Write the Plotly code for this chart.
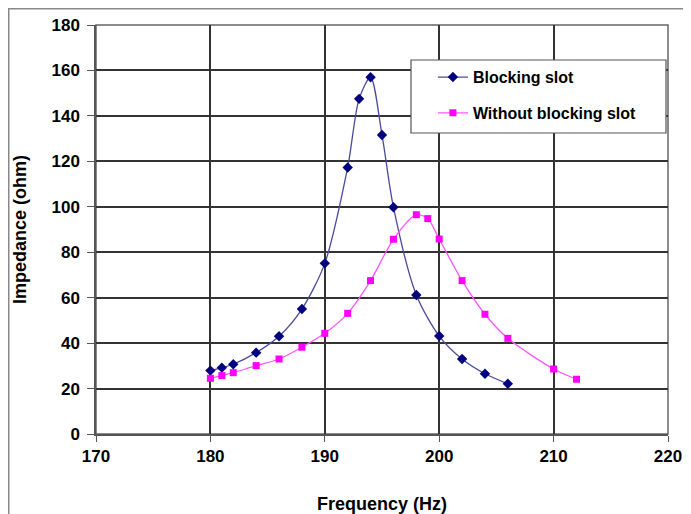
import plotly.graph_objects as go

freq_blocking = [180, 181, 182, 184, 186, 188, 190, 192, 193, 194, 195, 196, 198, 200, 202, 204, 206]
imp_blocking = [27.9, 29.2, 30.7, 35.8, 43.0, 55.0, 75.1, 117.3, 147.5, 157.0, 131.6, 99.8, 61.2, 43.1, 33.0, 26.5, 22.1]

freq_without = [180, 181, 182, 184, 186, 188, 190, 192, 194, 196, 198, 199, 200, 202, 204, 206, 210, 212]
imp_without = [24.5, 25.7, 27.0, 30.1, 33.0, 38.2, 44.3, 53.1, 67.5, 85.7, 96.5, 94.8, 85.8, 67.5, 52.7, 42.1, 28.6, 24.1]

x_ticks = [170, 180, 190, 200, 210, 220]
y_ticks = [0, 20, 40, 60, 80, 100, 120, 140, 160, 180]

FONT = "Liberation Sans"

fig = go.Figure()
fig.add_trace(go.Scatter(
    x=freq_blocking, y=imp_blocking, mode="lines+markers",
    name="<b>Blocking slot</b>", legendgroup="a",
    line=dict(color="#4a4a9c", width=1.3, shape="spline", smoothing=0.8),
    marker=dict(symbol="diamond", size=8, color="#000080"),
))
fig.add_trace(go.Scatter(
    x=freq_without, y=imp_without, mode="lines+markers",
    name="<b>Without blocking slot</b>", legendgroup="b",
    line=dict(color="#ff55ff", width=1.3, shape="spline", smoothing=0.8),
    marker=dict(symbol="square", size=7, color="#ff00ff"),
))

fig.update_layout(
    width=683, height=506,
    margin=dict(l=88, r=23, t=17, b=80),
    paper_bgcolor="white", plot_bgcolor="white",
    font=dict(family=FONT, size=17, color="black"),
    showlegend=True,
    legend=dict(
        x=0.589, y=0.914, xanchor="left", yanchor="top",
        bgcolor="rgba(0,0,0,0)", borderwidth=0,
        font=dict(family=FONT, size=16, color="black"),
        tracegroupgap=12,
    ),
    xaxis=dict(
        range=[170, 220], tickvals=x_ticks, ticktext=[f"<b>{v}</b>" for v in x_ticks],
        showgrid=True, gridcolor="#333333", gridwidth=1.5,
        showline=True, linecolor="#555555", linewidth=1.5,
        ticks="outside", ticklen=6, tickcolor="#555555",
        zeroline=False, automargin=False,
        title=dict(text="<b>Frequency (Hz)</b>", standoff=34, font=dict(size=18)),
    ),
    yaxis=dict(
        range=[0, 180], tickvals=y_ticks, ticktext=[f"<b>{v}</b>" for v in y_ticks],
        showgrid=True, gridcolor="#333333", gridwidth=1.5,
        showline=True, linecolor="#555555", linewidth=1.5,
        ticks="outside", ticklen=7, tickcolor="#555555",
        ticklabelstandoff=4,
        zeroline=False, automargin=False,
        title=dict(text="<b>Impedance (ohm)</b>", standoff=20, font=dict(size=18)),
    ),
    shapes=[
        dict(type="rect", xref="paper", yref="paper",
             x0=(0.75 - 88) / 572, x1=1.2, y0=-0.4, y1=1 + (17 - 0.75) / 409,
             line=dict(color="#888888", width=1.5), fillcolor="rgba(0,0,0,0)", layer="below"),
        dict(type="rect", xref="paper", yref="paper",
             x0=0, x1=1, y0=0, y1=1,
             line=dict(color="#666666", width=1.5), fillcolor="rgba(0,0,0,0)", layer="below"),
        dict(type="rect", xref="paper", yref="paper",
             x0=0.5507, x1=0.9965, y0=0.7359, y1=0.9144,
             line=dict(color="#555555", width=1.2), fillcolor="white", layer="above"),
    ],
)

fig.write_html("out.html")
